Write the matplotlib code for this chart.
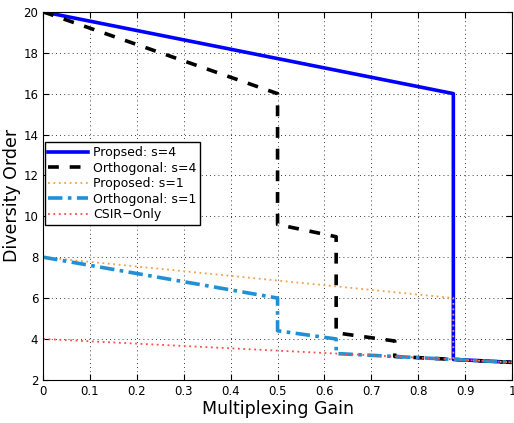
import matplotlib.pyplot as plt

# curves (multiplexing gain, diversity order)
prop4_x = [0, 0.875, 0.875, 1]
prop4_y = [20, 16, 3.0, 2.857]
orth4_x = [0, 0.5, 0.5, 0.625, 0.625, 0.75, 0.75, 1]
orth4_y = [20, 16, 9.6, 9.0, 4.3, 3.9, 3.143, 2.857]
prop1_x = [0, 0.875, 0.875, 1]
prop1_y = [8, 6, 3.0, 2.857]
orth1_x = [0, 0.5, 0.5, 0.625, 0.625, 1]
orth1_y = [8, 6, 4.4, 4.0, 3.286, 2.857]
csir_x = [0, 1]
csir_y = [4, 2.857]

fig = plt.figure(figsize=(5.14, 4.23), dpi=100)
ax = fig.add_axes([0.084, 0.102, 0.912, 0.870])

ax.plot(prop4_x, prop4_y, color='#0000ff', lw=2.6, label='Propsed: s=4')
ax.plot(orth4_x, orth4_y, color='black', lw=2.6, ls=(0, (3, 3)), label='Orthogonal: s=4')
ax.plot(prop1_x, prop1_y, color='#f5a04a', lw=1.3, ls=(0, (1, 2)), label='Proposed: s=1')
ax.plot(orth1_x, orth1_y, color='#1f8fd6', lw=2.6, ls=(0, (4, 1.5, 1, 1.5)), label='Orthogonal: s=1')
ax.plot(csir_x, csir_y, color='#ff4a4a', lw=1.3, ls=(0, (1, 2)), label='CSIR\u2212Only')

ax.set_xlim(0, 1)
ax.set_ylim(2, 20)
ax.set_xticks([i / 10 for i in range(11)])
ax.set_xticklabels(['0', '0.1', '0.2', '0.3', '0.4', '0.5', '0.6', '0.7', '0.8', '0.9', '1'])
ax.set_yticks(range(2, 21, 2))
ax.tick_params(direction='in', top=True, right=True, labelsize=8.5, length=4)
ax.grid(True, color='black', ls=(0, (1, 4)), lw=0.6)

ax.set_xlabel('Multiplexing Gain', fontsize=12.5, labelpad=2)
ax.set_ylabel('Diversity Order', fontsize=12.5, labelpad=2)

leg = ax.legend(loc='upper left', bbox_to_anchor=(0.003, 0.645), borderaxespad=0,
                fontsize=9, fancybox=False, edgecolor='black', framealpha=1,
                handlelength=3.2, labelspacing=0.2, borderpad=0.3, handletextpad=0.4)
leg.get_frame().set_linewidth(1.0)

fig.savefig('out.png', dpi=100)
